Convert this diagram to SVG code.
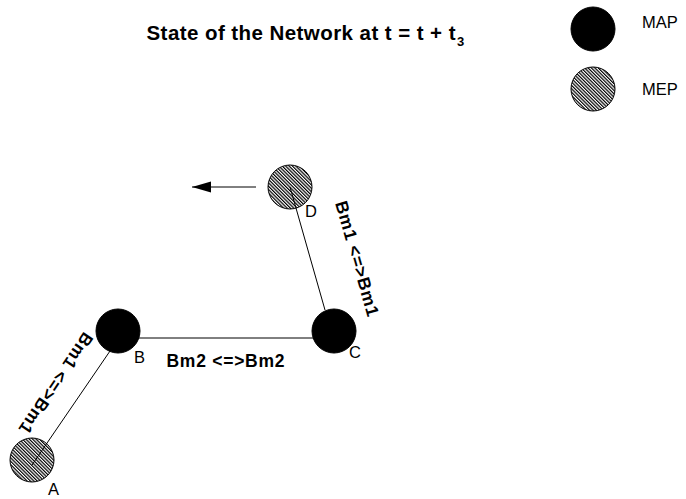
<svg xmlns="http://www.w3.org/2000/svg" width="686" height="499" viewBox="0 0 686 499">
<style>
  text { font-family: "Liberation Sans", Arial, Helvetica, sans-serif; fill: #000; }
  .title { font-size: 20.5px; font-weight: bold; }
  .sub { font-size: 13px; font-weight: bold; }
  .lbl { font-size: 16.5px; }
  .edge { font-size: 17.5px; font-weight: bold; }
  .map { fill: #000; stroke: #000; stroke-width: 1; }
  .mep { fill: url(#hatch); stroke: #000; stroke-width: 1; }
  .conn { stroke: #000; stroke-width: 1; fill: none; }
</style>
<defs>
  <pattern id="hatch" patternUnits="userSpaceOnUse" width="2.4" height="2.4" patternTransform="rotate(-45)">
    <rect width="2.4" height="2.4" fill="#fff"/>
    <rect width="1.2" height="2.4" fill="#000"/>
  </pattern>
  <marker id="arrow" markerWidth="20" markerHeight="12" refX="19" refY="5.5" orient="auto" markerUnits="userSpaceOnUse">
    <path d="M0,0 L19,5.5 L0,11 Z" fill="#000"/>
  </marker>
</defs>

<g id="title">
  <text class="title" x="146.5" y="39.5" textLength="309" lengthAdjust="spacing">State of the Network at t = t + t</text>
  <text class="sub" x="457" y="46">3</text>
</g>

<g id="legend">
  <g id="legend-map">
    <circle class="map" cx="593" cy="29" r="22"/>
    <text class="lbl" x="642" y="28">MAP</text>
  </g>
  <g id="legend-mep">
    <circle class="mep" cx="593" cy="89" r="22"/>
    <text class="lbl" x="642" y="95">MEP</text>
  </g>
</g>

<g id="node-A">
  <circle class="mep" cx="32" cy="460" r="22"/>
  <text class="lbl" x="48" y="495">A</text>
</g>
<g id="node-D">
  <circle class="mep" cx="290" cy="187" r="22"/>
  <text class="lbl" x="305" y="216.5">D</text>
</g>

<g id="connectors">
  <line class="conn" x1="32" y1="465" x2="110" y2="351"/>
  <line class="conn" x1="118" y1="338" x2="334" y2="338"/>
  <line class="conn" x1="290" y1="187" x2="325" y2="310"/>
  <line class="conn" x1="256" y1="187" x2="192" y2="187" marker-end="url(#arrow)"/>
  <text class="edge" x="166.5" y="367" textLength="118" lengthAdjust="spacing">Bm2 &lt;=&gt;Bm2</text>
  <text class="edge" text-anchor="middle" transform="translate(351.4 260.1) rotate(74)" x="0" y="0" textLength="119" lengthAdjust="spacing">Bm1 &lt;=&gt;Bm1</text>
  <text class="edge" text-anchor="middle" transform="translate(51 380) rotate(124)" x="0" y="0" textLength="118" lengthAdjust="spacing">Bm1 &lt;=&gt;Bm1</text>
</g>

<g id="node-B">
  <circle class="map" cx="118" cy="331" r="22"/>
  <text class="lbl" x="134" y="363">B</text>
</g>
<g id="node-C">
  <circle class="map" cx="334" cy="331" r="22"/>
  <text class="lbl" x="349" y="358">C</text>
</g>
</svg>
